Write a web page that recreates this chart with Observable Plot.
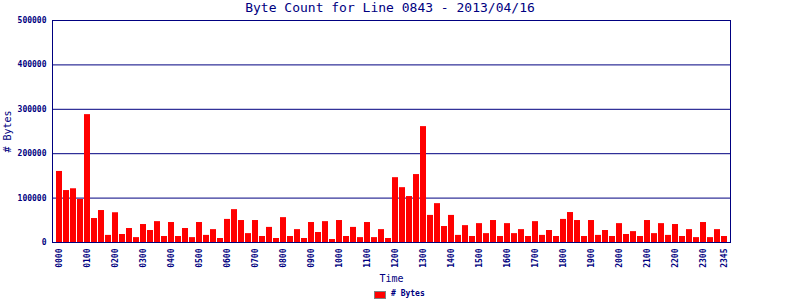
<!DOCTYPE html>
<html><head><meta charset="utf-8">
<script src="https://cdn.jsdelivr.net/npm/d3@7"></script>
<script src="https://cdn.jsdelivr.net/npm/@observablehq/plot@0.6"></script>
<style>
body{margin:0;background:#fff;font-family:"DejaVu Sans Mono",monospace;}
#wrap{width:800px;height:300px;overflow:hidden;}
#title{width:780px;height:16px;line-height:16px;text-align:center;font-size:13px;color:#000080;white-space:nowrap;}
#legend{position:relative;height:14px;width:800px;}
#legend .sw{position:absolute;left:374px;top:5px;width:10px;height:6px;background:#ff0000;border:1px solid #808080;}
#legend .lb{position:absolute;left:391px;top:4px;line-height:8px;font-size:8px;font-weight:bold;color:#000080;white-space:nowrap;}
#chart svg{display:block;}
</style>
</head><body>
<div id="wrap">
<div id="title">Byte Count for Line 0843 - 2013/04/16</div>
<div id="chart"></div>
<div id="legend"><span class="sw"></span><span class="lb"># Bytes</span></div>
</div>
<script>
const times = [
"0000","0015","0030","0045","0100","0115","0130","0145","0200","0215","0230","0245",
"0300","0315","0330","0345","0400","0415","0430","0445","0500","0515","0530","0545",
"0600","0615","0630","0645","0700","0715","0730","0745","0800","0815","0830","0845",
"0900","0915","0930","0945","1000","1015","1030","1045","1100","1115","1130","1145",
"1200","1215","1230","1245","1300","1315","1330","1345","1400","1415","1430","1445",
"1500","1515","1530","1545","1600","1615","1630","1645","1700","1715","1730","1745",
"1800","1815","1830","1845","1900","1915","1930","1945","2000","2015","2030","2045",
"2100","2115","2130","2145","2200","2215","2230","2245","2300","2315","2330","2345"];
const bytes = [
160000,117000,121000,97000,288000,54000,72000,16000,67000,18000,31500,11000,
40500,27000,47000,13500,45000,13500,31500,11000,45000,16000,29000,9000,
52000,74000,49500,20000,49500,13500,34000,9000,56000,13500,29000,9000,
45000,22500,47000,6700,49500,13500,34000,11000,45000,11000,29000,9000,
146000,123500,103500,153000,261000,61000,87500,36000,61000,16000,38000,13500,
42500,20000,49500,13500,42500,20000,29000,13500,47000,16000,27000,13500,
52000,67500,49500,13500,49500,16000,27000,13500,42500,18000,24500,13500,
49500,20000,42500,16000,40500,13500,29000,11000,45000,11000,29000,13500];
const xTickLabels = ["0000","0100","0200","0300","0400","0500","0600","0700","0800","0900","1000","1100",
"1200","1300","1400","1500","1600","1700","1800","1900","2000","2100","2200","2300","2345"];
const yTicks = [0,100000,200000,300000,400000,500000];
const gridValues = [100000,200000,300000,400000];
const yTitle = "# Bytes";
const xTitle = "Time";

const data = times.map((t,i)=>({time:t, bytes:bytes[i]}));
const navy = "#000080";

const chart = Plot.plot({
  width: 800,
  height: 270,
  marginTop: 4,
  marginBottom: 44,
  marginLeft: 52,
  marginRight: 70,
  style: {color: navy, fontFamily: "DejaVu Sans Mono", background: "white", overflow: "visible"},
  x: {type: "band", domain: times, paddingInner: 1/7, paddingOuter: 0.5, align: 0.5},
  y: {domain: [0, 500000]},
  marks: [
    Plot.ruleY(gridValues, {stroke: navy, strokeWidth: 1}),
    Plot.barY(data, {x: "time", y: "bytes", fill: "#ff0000"}),
    Plot.frame({stroke: navy, strokeWidth: 1}),
    Plot.axisY({ticks: yTicks, tickFormat: d => String(d), tickSize: 0, tickPadding: 6, fontSize: 8, fontWeight: "bold", label: null, fill: navy}),
    Plot.axisX({ticks: xTickLabels, tickRotate: -90, tickSize: 0, tickPadding: 6, fontSize: 8, fontWeight: "bold", label: null, fill: navy}),
    Plot.text([yTitle], {frameAnchor: "left", dx: -45, rotate: -90, textAnchor: "middle", fontSize: 10, fill: navy}),
    Plot.text([xTitle], {frameAnchor: "bottom", dy: 39, lineAnchor: "bottom", textAnchor: "middle", fontSize: 10, fill: navy})
  ]
});
document.getElementById("chart").appendChild(chart);
</script>
</body></html>
